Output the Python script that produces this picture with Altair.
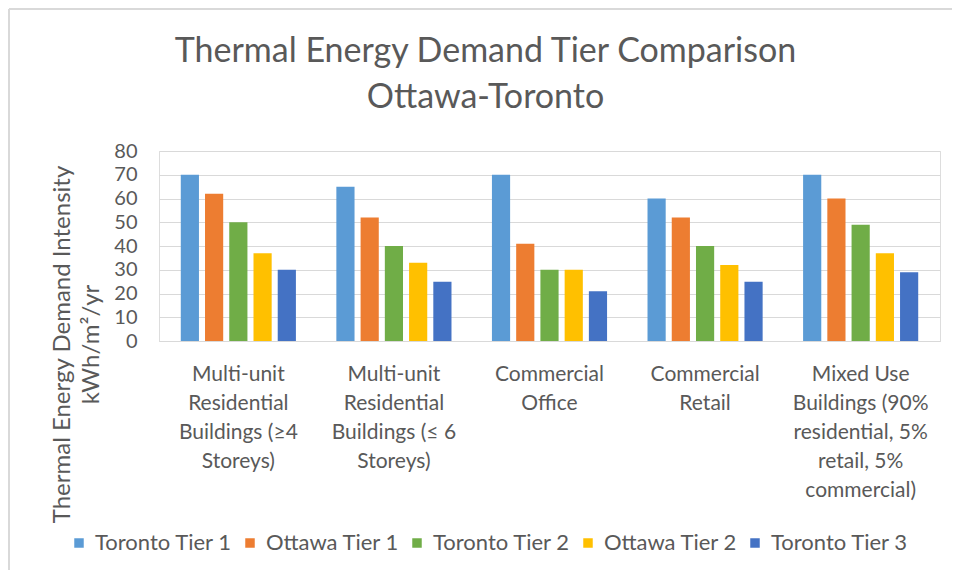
import altair as alt
import pandas as pd

categories = [
    "Multi-unit|Residential|Buildings (≥4|Storeys)",
    "Multi-unit |Residential|Buildings (≤ 6|Storeys)",
    "Commercial|Office",
    "Commercial|Retail",
    "Mixed Use|Buildings (90%|residential, 5%|retail, 5%|commercial)",
]
series = ["Toronto Tier 1", "Ottawa Tier 1", "Toronto Tier 2", "Ottawa Tier 2", "Toronto Tier 3"]
colors = ["#5B9BD5", "#ED7D31", "#70AD47", "#FFC000", "#4472C4"]

toronto_t1 = [70, 65, 70, 60, 70]
ottawa_t1 = [62, 52, 41, 52, 60]
toronto_t2 = [50, 40, 30, 40, 49]
ottawa_t2 = [37, 33, 30, 32, 37]
toronto_t3 = [30, 25, 21, 25, 29]

values = [toronto_t1, ottawa_t1, toronto_t2, ottawa_t2, toronto_t3]
rows = []
for s, vals in zip(series, values):
    for c, v in zip(categories, vals):
        rows.append({"category": c, "series": s, "value": v})
df = pd.DataFrame(rows)

FONT = "Lato"
GREY = "#595959"
GRID = "#D9D9D9"

bars = alt.Chart(df).mark_bar().encode(
    x=alt.X("category:N", sort=categories,
            scale=alt.Scale(paddingInner=0.26, paddingOuter=0.14),
            axis=alt.Axis(title=None, labelAngle=0, labelExpr="split(datum.label, '|')",
                          labelFont=FONT, labelFontSize=21, labelColor=GREY,
                          labelLineHeight=29, labelPadding=22, labelLimit=0,
                          labelBaseline="top",
                          ticks=False, domainColor=GRID, domainWidth=1)),
    xOffset=alt.XOffset("series:N", sort=series,
                        scale=alt.Scale(paddingInner=0.25, paddingOuter=0)),
    y=alt.Y("value:Q", scale=alt.Scale(domain=[0, 80]),
            axis=alt.Axis(values=[0, 10, 20, 30, 40, 50, 60, 70, 80],
                          title=["Thermal Energy Demand Intensity", "kWh/m²/yr"],
                          titleFont=FONT, titleFontSize=24, titleFontWeight="normal",
                          titleColor=GREY, titleLineHeight=29,
                          titleAngle=-90, titleAlign="center", titleBaseline="middle",
                          titleX=-97, titleY=193,
                          labelFont=FONT, labelFontSize=20, labelColor=GREY,
                          labelPadding=22, ticks=False, domain=False,
                          gridColor=GRID, gridWidth=1)),
    color=alt.Color("series:N", sort=series,
                    scale=alt.Scale(domain=series, range=colors),
                    legend=alt.Legend(title=None, orient="none", direction="horizontal",
                                      columns=5, legendX=-91, legendY=381,
                                      symbolType="square", symbolSize=90,
                                      symbolStrokeWidth=0, symbolOpacity=1,
                                      labelFont=FONT, labelFontSize=22, labelColor=GREY,
                                      columnPadding=6, labelOffset=5)),
)

border_top = alt.Chart(df).mark_rule(color=GRID, strokeWidth=2).encode(
    x=alt.value(-150), x2=alt.value(800), y=alt.value(-142)
)
border_left = alt.Chart(df).mark_rule(color=GRID, strokeWidth=2).encode(
    x=alt.value(-150), y=alt.value(-142), y2=alt.value(420)
)

chart = alt.layer(bars, border_top, border_left).properties(
    width=781,
    height=190,
    padding={"left": 151, "top": 143, "right": 12, "bottom": 229},
    autosize=alt.AutoSizeParams(type="none"),
    title=alt.Title(["Thermal Energy Demand Tier  Comparison", "Ottawa-Toronto"],
                    font=FONT, fontSize=34, fontWeight="normal", color=GREY,
                    lineHeight=46, anchor="middle", frame="group", dx=-64, dy=131,
                    offset=24),
).configure_view(stroke=None).configure(background="white")

chart.save("out.html", embed_options={"renderer": "svg", "actions": False})
